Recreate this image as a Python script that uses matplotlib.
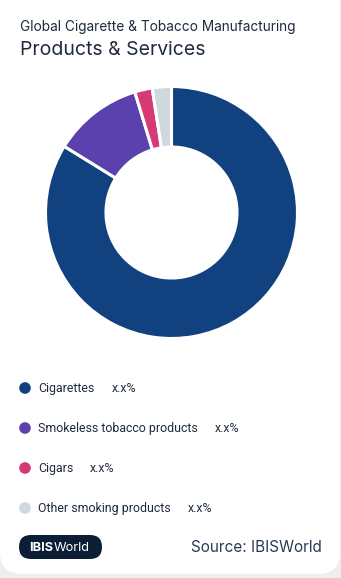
import matplotlib
matplotlib.use("Agg")
import matplotlib.pyplot as plt
from matplotlib.patches import FancyBboxPatch, Circle

categories = ["Cigarettes", "Smokeless tobacco products", "Cigars", "Other smoking products"]
shares = [83.8, 11.5, 2.25, 2.45]
value_labels = ["x.x%", "x.x%", "x.x%", "x.x%"]
colors = ["#12417f", "#5a41ad", "#d63a75", "#cfd8dc"]

title_sup = "Global Cigarette & Tobacco Manufacturing"
title_main = "Products & Services"
source = "Source: IBISWorld"

W, H = 341, 578
fig = plt.figure(figsize=(W / 100, H / 100), dpi=100)
fig.patch.set_facecolor("#eeeeee")

bg = fig.add_axes([0, 0, 1, 1])
bg.set_xlim(0, W)
bg.set_ylim(H, 0)
bg.axis("off")
bg.add_patch(FancyBboxPatch((0, -20), W - 1, H - 4 + 20,
                            boxstyle="round,pad=0,rounding_size=22",
                            facecolor="white", edgecolor="none"))

font = ["Inter", "DejaVu Sans"]
lfont = ["Roboto", "DejaVu Sans"]
textc = "#1f2b3d"
bg.text(20, 31, title_sup, fontsize=9.85, color=textc, family=font, va="baseline")
bg.text(20, 55, title_main, fontsize=14, color=textc, family=font, va="baseline")

# donut
cx, cy, r = 171.5, 212.5, 126
ax = fig.add_axes([(cx - r) / W, (H - cy - r) / H, 2 * r / W, 2 * r / H])
ax.pie(shares, colors=colors, startangle=90, counterclock=False, radius=1,
       wedgeprops=dict(width=0.48, edgecolor="white", linewidth=2.2))
ax.set_xlim(-1, 1)
ax.set_ylim(-1, 1)
ax.set_aspect("equal")
ax.axis("off")

# legend
ys = [388, 428, 468, 508]
for cat, val, col, y in zip(categories, value_labels, colors, ys):
    bg.add_patch(Circle((25, y), 5.8, facecolor=col, edgecolor="none"))
    t = bg.text(38, y + 0.5, cat, fontsize=8.95, color=textc, family=lfont, va="center")
    fig.canvas.draw()
    bb = t.get_window_extent()
    bg.text(bb.x1 + 17, y + 1, val, fontsize=8.8, color=textc, family=lfont, va="center")

# footer logo
bg.add_patch(FancyBboxPatch((19, 535), 83, 24, boxstyle="round,pad=0,rounding_size=12",
                            facecolor="#0c1e36", edgecolor="none"))
t1 = bg.text(29.5, 548, "IBIS", fontsize=9.2, color="white", weight="bold", family=font, va="center")
fig.canvas.draw()
bb1 = t1.get_window_extent()
bg.text(bb1.x1 + 0.5, 548, "World", fontsize=9.2, color="white", family=font, va="center")

bg.text(322, 548, source, fontsize=11, color="#2a3a55", family=font, va="center", ha="right")

fig.savefig("out.png", dpi=100, facecolor=fig.get_facecolor())
